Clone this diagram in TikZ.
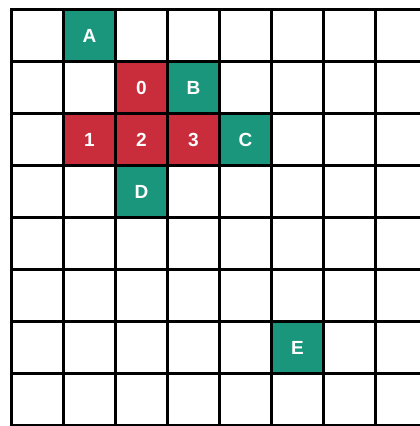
\documentclass[tikz,border=0pt]{standalone}
\usepackage{fontspec}
\setmainfont{Liberation Sans}
\usetikzlibrary{positioning}
\definecolor{cellred}{HTML}{C92C3B}
\definecolor{cellteal}{HTML}{1A967C}
\tikzset{
  cell/.style={minimum size=52pt, inner sep=0pt, text=white,
    font=\fontsize{19}{19}\selectfont\bfseries},
  redcell/.style={cell, fill=cellred},
  tealcell/.style={cell, fill=cellteal},
  gridline/.style={line width=3pt, draw=black}
}
\begin{document}
\begin{tikzpicture}[x=1pt,y=-1pt]
  \useasboundingbox (0,0) rectangle (420,426);
  \clip (0,0) rectangle (420,426);
  \fill[white] (0,0) rectangle (420,426);
  % coloured cells, (col,row) -> centre
  \node[tealcell] (A) at (37.5+52*1, 35.8+52*0) {A};
  \node[redcell]  (n0) at (37.5+52*2, 35.8+52*1) {0};
  \node[tealcell] (B) at (37.5+52*3, 35.8+52*1) {B};
  \node[redcell]  (n1) at (37.5+52*1, 35.8+52*2) {1};
  \node[redcell]  (n2) at (37.5+52*2, 35.8+52*2) {2};
  \node[redcell]  (n3) at (37.5+52*3, 35.8+52*2) {3};
  \node[tealcell] (C) at (37.5+52*4, 35.8+52*2) {C};
  \node[tealcell] (D) at (37.5+52*2, 35.8+52*3) {D};
  \node[tealcell] (E) at (37.5+52*5, 35.8+52*6) {E};
  % grid
  \foreach \i in {0,...,8} {
    \draw[gridline] (11.5+52*\i, 8) -- (11.5+52*\i, 440);
    \draw[gridline] (10, 9.8+52*\i) -- (440, 9.8+52*\i);
  }
\end{tikzpicture}
\end{document}
